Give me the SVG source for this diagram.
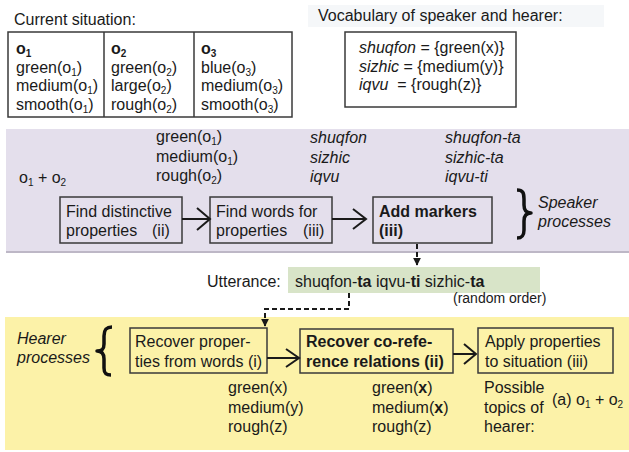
<svg xmlns="http://www.w3.org/2000/svg" width="629" height="452" viewBox="0 0 629 452">
<defs>
<style>
text{font-family:"Liberation Sans",Arial,sans-serif;font-size:16px;fill:#1a1a1a}
.it{font-style:italic}
.b{font-weight:bold}
.sm{font-size:14px}
.sub{font-size:10px}
.box{fill:none;stroke:#3a3a3a;stroke-width:1.5}
.wbox{fill:#ffffff;stroke:#3a3a3a;stroke-width:1.5}
.arr{fill:none;stroke:#1a1a1a;stroke-width:2}
.dash{fill:none;stroke:#1a1a1a;stroke-width:2;stroke-dasharray:5 3}
.brace{fill:none;stroke:#111;stroke-width:3.5;stroke-linejoin:round}
</style>
<marker id="ah" viewBox="0 0 10 10" refX="9" refY="5" markerWidth="4" markerHeight="4" orient="auto" markerUnits="strokeWidth">
<path d="M0,0 L10,5 L0,10 z" fill="#1a1a1a"/>
</marker>
</defs>

<rect x="0" y="0" width="629" height="452" fill="#ffffff"/>

<!-- panels -->
<g id="speaker-panel">
<rect x="6" y="129" width="623" height="123" fill="#e4dfec"/>
<line x1="6" y1="252" x2="629" y2="252" stroke="#bdb7c6" stroke-width="2"/>
</g>
<g id="hearer-panel">
<rect x="5" y="317" width="624" height="133" fill="#fcf2a8"/>
</g>

<!-- current situation -->
<g id="situation">
<text x="14" y="25">Current situation:</text>
<rect class="wbox" x="8" y="32" width="284" height="85"/>
<line x1="104" y1="32" x2="104" y2="117" stroke="#3a3a3a" stroke-width="1.5"/>
<line x1="194" y1="32" x2="194" y2="117" stroke="#3a3a3a" stroke-width="1.5"/>
<text x="16" y="54" class="b">o<tspan class="sub" dy="3">1</tspan></text>
<text x="16" y="72.5">green(o<tspan class="sub" dy="3">1</tspan><tspan dy="-3">)</tspan></text>
<text x="16" y="91">medium(o<tspan class="sub" dy="3">1</tspan><tspan dy="-3">)</tspan></text>
<text x="16" y="109.5">smooth(o<tspan class="sub" dy="3">1</tspan><tspan dy="-3">)</tspan></text>
<text x="111" y="54" class="b">o<tspan class="sub" dy="3">2</tspan></text>
<text x="111" y="72.5">green(o<tspan class="sub" dy="3">2</tspan><tspan dy="-3">)</tspan></text>
<text x="111" y="91">large(o<tspan class="sub" dy="3">2</tspan><tspan dy="-3">)</tspan></text>
<text x="111" y="109.5">rough(o<tspan class="sub" dy="3">2</tspan><tspan dy="-3">)</tspan></text>
<text x="201" y="54" class="b">o<tspan class="sub" dy="3">3</tspan></text>
<text x="201" y="72.5">blue(o<tspan class="sub" dy="3">3</tspan><tspan dy="-3">)</tspan></text>
<text x="201" y="91">medium(o<tspan class="sub" dy="3">3</tspan><tspan dy="-3">)</tspan></text>
<text x="201" y="109.5">smooth(o<tspan class="sub" dy="3">3</tspan><tspan dy="-3">)</tspan></text>
</g>

<!-- vocabulary -->
<g id="vocabulary">
<rect x="308" y="5" width="296" height="22" fill="#f5f7f9"/>
<text x="318" y="21">Vocabulary of speaker and hearer:</text>
<rect class="wbox" x="345" y="32" width="171" height="75"/>
<text x="359" y="53"><tspan class="it">shuqfon</tspan> = {green(x)}</text>
<text x="359" y="72"><tspan class="it">sizhic</tspan> = {medium(y)}</text>
<text x="359" y="90" xml:space="preserve"><tspan class="it">iqvu</tspan>  = {rough(z)}</text>
</g>

<!-- speaker annotations -->
<g id="speaker-topic">
<text x="19" y="183">o<tspan class="sub" dy="3">1</tspan><tspan dy="-3"> + o</tspan><tspan class="sub" dy="3">2</tspan></text>
</g>
<g id="speaker-properties">
<text x="156" y="142">green(o<tspan class="sub" dy="3">1</tspan><tspan dy="-3">)</tspan></text>
<text x="156" y="162">medium(o<tspan class="sub" dy="3">1</tspan><tspan dy="-3">)</tspan></text>
<text x="156" y="181">rough(o<tspan class="sub" dy="3">2</tspan><tspan dy="-3">)</tspan></text>
</g>
<g id="speaker-words">
<text x="310" y="143" class="it">shuqfon</text>
<text x="310" y="163" class="it">sizhic</text>
<text x="310" y="182" class="it">iqvu</text>
</g>
<g id="speaker-marked">
<text x="445" y="143" class="it">shuqfon-ta</text>
<text x="445" y="163" class="it">sizhic-ta</text>
<text x="445" y="182" class="it">iqvu-ti</text>
</g>

<g id="find-distinctive">
<rect class="box" x="60" y="197" width="122" height="46"/>
<text x="66" y="217">Find distinctive</text>
<text x="66" y="236">properties</text>
<text x="152" y="236">(ii)</text>
</g>
<g id="find-words">
<rect class="box" x="210" y="197" width="122" height="46"/>
<text x="216" y="217">Find words for</text>
<text x="216" y="236">properties</text>
<text x="303" y="236">(iii)</text>
</g>
<g id="add-markers">
<rect class="box" x="373" y="197" width="119" height="46"/>
<text x="379" y="217" class="b">Add markers</text>
<text x="379" y="236" class="b">(iii)</text>
</g>
<g id="speaker-label">
<path class="brace" d="M517,190 C523,190 524,193 524,199 L524,205 C524,210 526,213 531,213 C526,213 524,216 524,221 L524,230 C524,236 522,238 517,238"/>
<text x="538" y="208" class="it">Speaker</text>
<text x="538" y="227" class="it">processes</text>
</g>

<!-- utterance -->
<g id="utterance">
<text x="207" y="287">Utterance:</text>
<rect x="288" y="267" width="252" height="26" fill="#d8e4c8"/>
<text x="295" y="287">shuqfon-<tspan class="b">ta</tspan> iqvu-<tspan class="b">ti</tspan> sizhic-<tspan class="b">ta</tspan></text>
<text x="453" y="303" class="sm">(random order)</text>
</g>

<!-- hearer -->
<g id="hearer-label">
<text x="17" y="344" class="it">Hearer</text>
<text x="17" y="363" class="it">processes</text>
<path class="brace" d="M112,327 C106,327 104,330 104,336 L104,344 C104,349 102,351 97,351 C102,351 104,354 104,359 L104,368 C104,373 106,375 111,375"/>
</g>
<g id="recover-properties">
<rect class="box" x="130" y="328" width="137" height="45"/>
<text x="135" y="347">Recover proper-</text>
<text x="135" y="367">ties from words (i)</text>
</g>
<g id="recover-coreference">
<rect class="box" x="300" y="329" width="153" height="44"/>
<text x="306" y="347" class="b">Recover co-refe-</text>
<text x="306" y="367" class="b">rence relations (ii)</text>
</g>
<g id="apply-properties">
<rect class="box" x="478" y="328" width="135" height="45"/>
<text x="485" y="347">Apply properties</text>
<text x="485" y="367">to situation (iii)</text>
</g>
<g id="hearer-properties">
<text x="228" y="393">green(x)</text>
<text x="228" y="413">medium(y)</text>
<text x="228" y="432">rough(z)</text>
</g>
<g id="hearer-coreferred">
<text x="372" y="393">green(<tspan class="b">x</tspan>)</text>
<text x="372" y="413">medium(<tspan class="b">x</tspan>)</text>
<text x="372" y="432">rough(z)</text>
</g>
<g id="hearer-topics">
<text x="484" y="393">Possible</text>
<text x="484" y="413">topics of</text>
<text x="484" y="432">hearer:</text>
<text x="552" y="405">(a) o<tspan class="sub" dy="3">1</tspan><tspan dy="-3"> + o</tspan><tspan class="sub" dy="3">2</tspan></text>
</g>

<!-- connectors -->
<g id="connectors">
<line class="arr" x1="182" y1="219" x2="210" y2="219"/>
<polyline class="arr" points="197,208 210,219 197,230"/>
<line class="arr" x1="332" y1="219" x2="366" y2="219"/>
<polyline class="arr" points="353,209 366,219 353,229"/>
<line class="arr" x1="267" y1="358" x2="299" y2="358"/>
<polyline class="arr" points="286,349 299,358 286,367"/>
<line class="arr" x1="453" y1="354" x2="476" y2="354"/>
<polyline class="arr" points="464,344 476,354 464,364"/>
<path class="dash" d="M417,244 V265" marker-end="url(#ah)"/>
<path class="dash" d="M349,293 V309 H265 V326" marker-end="url(#ah)"/>
</g>
</svg>
